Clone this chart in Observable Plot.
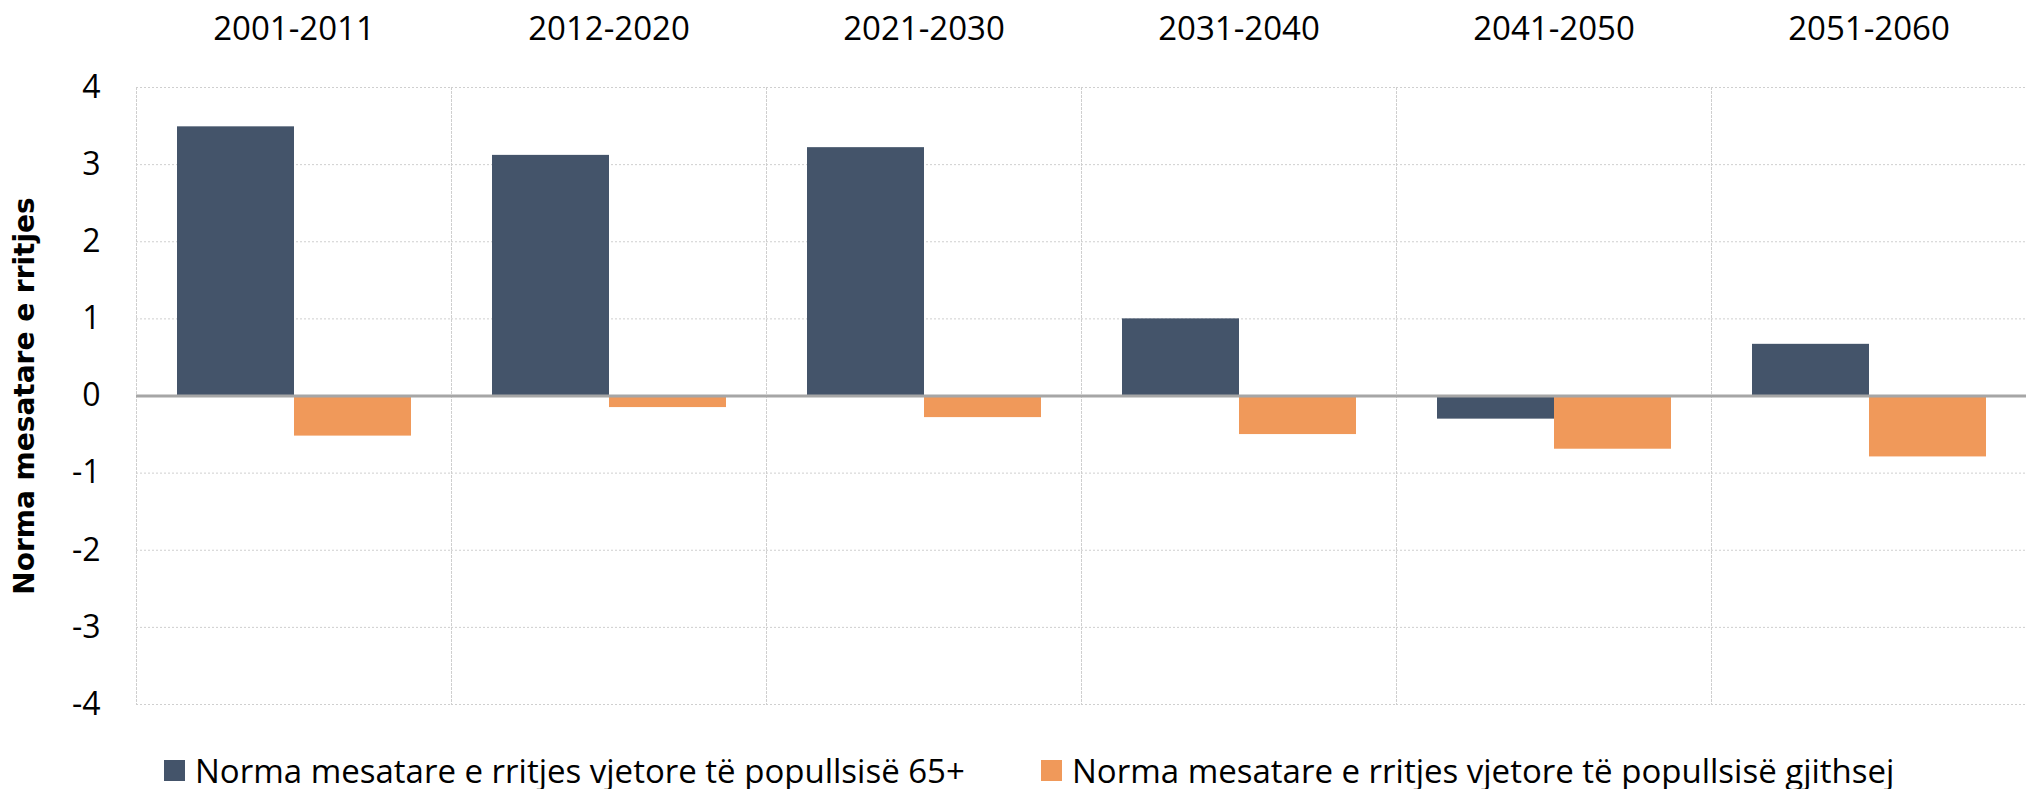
<!DOCTYPE html>
<html>
<head>
<meta charset="utf-8">
<script src="https://cdn.jsdelivr.net/npm/d3@7"></script>
<script src="https://cdn.jsdelivr.net/npm/@observablehq/plot@0.6"></script>
<style>
  html, body { margin: 0; padding: 0; background: #fff; }
  #chart svg { display: block; }
  .legend { display: flex; align-items: center; height: 70px; padding-left: 164px; font-family: "Open Sans", sans-serif; font-size: 33px; color: #000; }
  .legend .item { display: flex; align-items: center; }
  .legend .item:first-child { width: 877px; }
  .legend .sw { width: 21px; height: 21px; margin-right: 10px; }
</style>
</head>
<body>
<div id="chart"></div>
<script>
const periods = ["2001-2011", "2012-2020", "2021-2030", "2031-2040", "2041-2050", "2051-2060"];
const seriesNames = [
  "Norma mesatare e rritjes vjetore të popullsisë 65+",
  "Norma mesatare e rritjes vjetore të popullsisë gjithsej"
];
const growth65 = [3.49, 3.12, 3.22, 1.0, -0.30, 0.67];
const growthTotal = [-0.52, -0.15, -0.28, -0.50, -0.69, -0.79];
const yTicks = [-4, -3, -2, -1, 0, 1, 2, 3, 4];
const yTitle = "Norma mesatare e rritjes";
const colors = ["#44546A", "#F0995A"];

const rows = [];
periods.forEach((p, i) => {
  rows.push({period: p, series: seriesNames[0], value: growth65[i]});
  rows.push({period: p, series: seriesNames[1], value: growthTotal[i]});
});

const chart = Plot.plot({
  width: 2028,
  height: 735,
  marginTop: 87,
  marginBottom: 31,
  marginLeft: 133,
  marginRight: 0,
  style: {fontFamily: "'Open Sans', sans-serif", color: "#000", background: "#fff"},
  fx: {domain: periods, padding: 0, label: null},
  x: {domain: seriesNames, paddingInner: 0, paddingOuter: 0.345, axis: null},
  y: {domain: [-4, 4], label: null},
  color: {domain: seriesNames, range: colors},
  marks: [
    Plot.gridY(yTicks, {stroke: "#CFCFCF", strokeOpacity: 1, strokeDasharray: "2,2", strokeWidth: 1}),
    Plot.frame({anchor: "left", stroke: "#CFCFCF", strokeOpacity: 1, strokeDasharray: "2,2", strokeWidth: 1}),
    Plot.barY(rows, {fx: "period", x: "series", y: "value", fill: "series"}),
    Plot.ruleY([0], {stroke: "#A6A6A6", strokeWidth: 3}),
    Plot.axisFx({anchor: "top", tickSize: 0, tickPadding: 48, fontSize: 33, label: null}),
    Plot.axisY(yTicks, {anchor: "left", tickSize: 0, tickPadding: 36, fontSize: 32, tickFormat: d => String(d), label: null}),
    Plot.axisY([], {anchor: "left", tickSize: 0, label: yTitle, labelAnchor: "center", labelArrow: "none", labelOffset: 122, fontSize: 28, fontWeight: "bold", fontFamily: "'DejaVu Sans', sans-serif"})
  ]
});
document.getElementById("chart").appendChild(chart);

const legend = document.createElement("div");
legend.className = "legend";
seriesNames.forEach((name, i) => {
  const item = document.createElement("div");
  item.className = "item";
  const sw = document.createElement("span");
  sw.className = "sw";
  sw.style.background = colors[i];
  const label = document.createElement("span");
  label.textContent = name;
  item.appendChild(sw);
  item.appendChild(label);
  legend.appendChild(item);
});
document.getElementById("chart").appendChild(legend);
</script>
</body>
</html>
